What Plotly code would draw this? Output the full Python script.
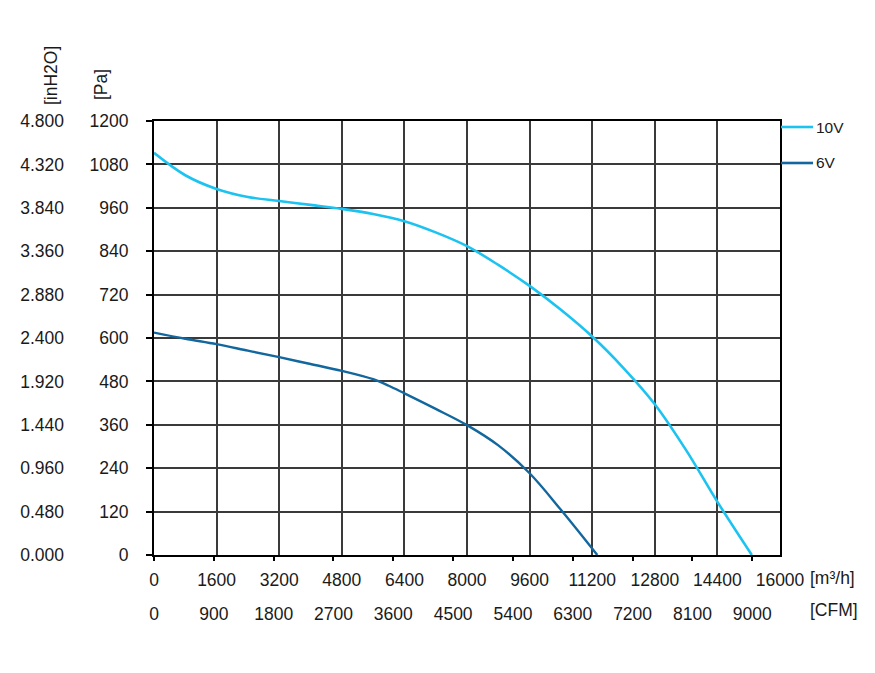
import plotly.graph_objects as go

# ---- data ----
flow_10v = [0, 800, 1600, 2400, 3200, 4000, 4800, 5600, 6400, 7200, 8000, 8800,
            9600, 10400, 11200, 12000, 12800, 13600, 14400, 15280]
pa_10v = [1112, 1050, 1012, 990, 979, 968, 957, 943, 923, 892, 854, 802,
          744, 678, 604, 517, 417, 290, 147, 0]

flow_6v = [0, 800, 1600, 2400, 3200, 4000, 4800, 5600, 6000, 6400, 7200, 8000,
           8800, 9600, 10400, 11330]
pa_6v = [615, 598, 583, 565, 547, 528, 509, 486, 468, 447, 404, 359,
         303, 226, 125, 0]

series_names = ["10V", "6V"]
series_colors = ["#1DC3F0", "#11679E"]

m3h_ticks = [0, 1600, 3200, 4800, 6400, 8000, 9600, 11200, 12800, 14400, 16000]
cfm_ticks = [0, 900, 1800, 2700, 3600, 4500, 5400, 6300, 7200, 8100, 9000]
pa_ticks = [0, 120, 240, 360, 480, 600, 720, 840, 960, 1080, 1200]
inh2o_ticks = [0.0, 0.48, 0.96, 1.44, 1.92, 2.40, 2.88, 3.36, 3.84, 4.32, 4.80]
CFM_TO_M3H = 1.69901

W, H = 875, 673
ML, MR, MT, MB = 10, 10, 10, 10
PW, PH = W - ML - MR, H - MT - MB
X0, X1, Y0, Y1 = 154, 780, 121, 555  # plot area in screen px


def px(x):
    return (x - ML) / PW


def py(y):
    return 1 - (y - MT) / PH


FONT = "Liberation Sans, Arial, sans-serif"
TXT = "#1a1a1a"
GRID = "#3a3a3a"

fig = go.Figure()
fig.add_trace(go.Scatter(x=flow_10v, y=pa_10v, mode="lines", name=series_names[0],
                         line=dict(color=series_colors[0], width=2.6, shape="spline", smoothing=1.0),
                         xaxis="x", yaxis="y"))
fig.add_trace(go.Scatter(x=flow_6v, y=pa_6v, mode="lines", name=series_names[1],
                         line=dict(color=series_colors[1], width=2.4, shape="spline", smoothing=1.0),
                         xaxis="x", yaxis="y"))
# invisible traces to activate secondary axes
fig.add_trace(go.Scatter(x=[0], y=[0], mode="markers", marker=dict(opacity=0),
                         showlegend=False, hoverinfo="skip", xaxis="x2", yaxis="y"))
fig.add_trace(go.Scatter(x=[0], y=[0], mode="markers", marker=dict(opacity=0),
                         showlegend=False, hoverinfo="skip", xaxis="x", yaxis="y2"))

fig.update_layout(
    template="none",
    width=W, height=H,
    margin=dict(l=ML, r=MR, t=MT, b=MB, autoexpand=False),
    paper_bgcolor="white", plot_bgcolor="white",
    showlegend=False,
    font=dict(family=FONT, size=17.5, color=TXT),
    xaxis=dict(domain=[px(X0), px(X1)], range=[0, 16000], tickvals=m3h_ticks,
               ticktext=[str(v) for v in m3h_ticks], automargin=False,
               showgrid=True, gridcolor=GRID, gridwidth=1.6, zeroline=False,
               showline=True, linecolor="black", linewidth=2, mirror=True,
               ticks="", ticklabelstandoff=8, anchor="y"),
    xaxis2=dict(overlaying="x", side="bottom", anchor="y", automargin=False,
                range=[0, 16000 / CFM_TO_M3H], tickvals=cfm_ticks,
                ticktext=[str(v) for v in cfm_ticks],
                showgrid=False, zeroline=False, showline=False,
                ticks="outside", ticklen=5, tickcolor="black", tickwidth=1.5,
                ticklabelstandoff=38),
    yaxis=dict(domain=[py(Y1), py(Y0)], range=[0, 1200], tickvals=pa_ticks,
               automargin=False,
               showgrid=True, gridcolor=GRID, gridwidth=1.6, zeroline=False,
               showline=True, linecolor="black", linewidth=2, mirror=True,
               ticks="outside", ticklen=6, tickcolor="black", tickwidth=1.5,
               ticklabelstandoff=14, anchor="x"),
    yaxis2=dict(overlaying="y", side="left", anchor="free", position=px(64),
                automargin=False,
                range=[0, 4.8], tickvals=inh2o_ticks,
                ticktext=[f"{v:.3f}" for v in inh2o_ticks],
                showgrid=False, zeroline=False, showline=False, ticks=""),
)

annotations = [
    dict(text="[inH2O]", x=px(51), y=py(76), textangle=-90),
    dict(text="[Pa]", x=px(101), y=py(85), textangle=-90),
    dict(text="[m³/h]", x=px(808), y=py(578), xanchor="left"),
    dict(text="[CFM]", x=px(808), y=py(610), xanchor="left"),
]
shapes = []
legend_y = [127, 163]
for name, col, yy in zip(series_names, series_colors, legend_y):
    shapes.append(dict(type="line", xref="paper", yref="paper",
                       x0=px(781), x1=px(813), y0=py(yy), y1=py(yy),
                       line=dict(color=col, width=2.6)))
    annotations.append(dict(text=name, x=px(814), y=py(yy), xanchor="left",
                            font=dict(size=15.5)))
for a in annotations:
    a.update(xref="paper", yref="paper", showarrow=False)
    a.setdefault("xanchor", "center")
    a.setdefault("yanchor", "middle")
    a.setdefault("font", dict(size=17.5))
fig.update_layout(annotations=annotations, shapes=shapes)

fig.write_html("out.html", config={"displayModeBar": False},
               post_script="document.body.style.margin='0';"
                           "document.documentElement.style.overflow='hidden';")
